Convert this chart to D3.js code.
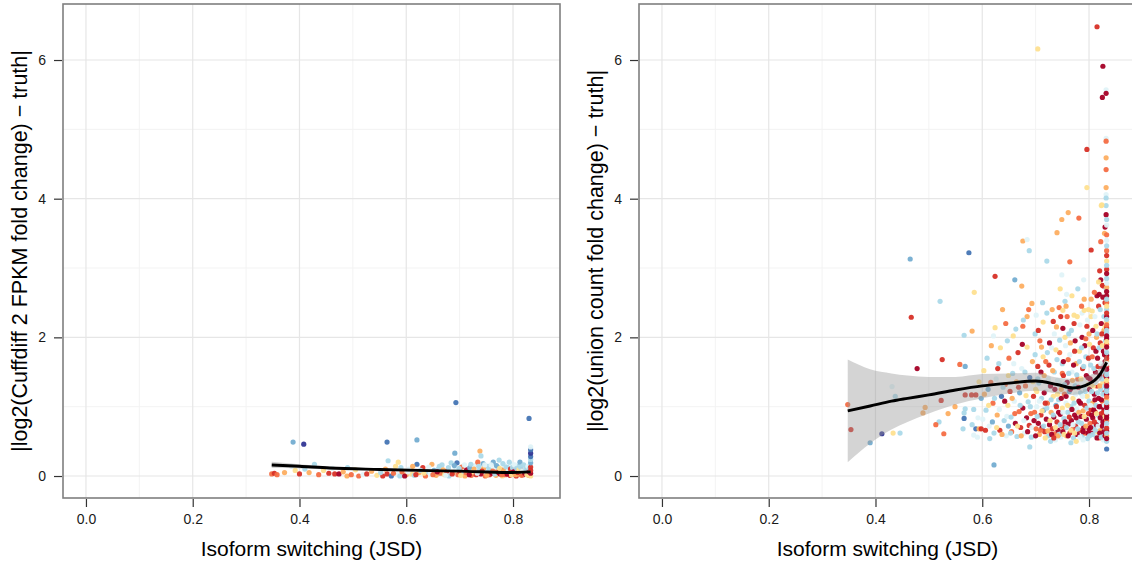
<!DOCTYPE html>
<html><head><meta charset="utf-8">
<script src="https://cdn.jsdelivr.net/npm/d3@7"></script>
<style>html,body{margin:0;padding:0;background:#fff;}svg{display:block;font-family:"Liberation Sans",Arial,sans-serif;}</style>
</head><body>
<svg id="chart" width="1132" height="565"></svg>
<script>
// ---------- data ----------
const palette = ["#a50026","#d73027","#f46d43","#fdae61","#fee090","#e0f3f8","#abd9e9","#74add1","#4575b4","#313695"];
const xTicks = [0.0,0.2,0.4,0.6,0.8];
const xTickLabels = ["0.0","0.2","0.4","0.6","0.8"];
const yTicks = [0,2,4,6];
const yTickLabels = ["0","2","4","6"];
const xMinor = [0.1,0.3,0.5,0.7];
const yMinor = [1,3,5];
const xTitle = "Isoform switching (JSD)";
const leftYTitle = "|log2(Cuffdiff 2 FPKM fold change) \u2212 truth|";
const rightYTitle = "|log2(union count fold change) \u2212 truth|";

// [JSD, error, colour class]
const leftPoints = [
[0.348,0.03,2],[0.353,0.04,1],[0.358,0.02,2],[0.372,0.05,3],[0.385,0.14,5],[0.392,0.08,4],[0.400,0.03,1],[0.410,0.10,6],[0.418,0.05,3],[0.428,0.17,6],[0.436,0.02,2],[0.445,0.08,4],[0.455,0.04,1],[0.462,0.11,5],[0.466,0.03,1],[0.474,0.03,0],[0.482,0.06,3],[0.489,0.00,3],[0.490,0.12,6],[0.497,0.02,2],[0.505,0.09,4],
[0.511,0.00,2],[0.519,0.02,5],[0.526,0.03,1],[0.535,0.07,3],[0.545,0.01,4],[0.556,0.00,1],[0.564,0.03,1],[0.566,0.22,6],[0.572,0.00,8],[0.580,0.14,4],[0.585,0.20,4],[0.584,0.02,5],[0.588,0.00,6],[0.592,0.06,2],[0.600,0.02,3],[0.605,0.10,5],[0.610,0.03,4],[0.615,0.01,6],[0.620,0.17,8],[0.624,0.05,3],[0.631,0.12,1],[0.636,0.00,2],[0.640,0.06,6],[0.645,0.03,5],[0.648,0.17,3],[0.652,0.08,7],[0.656,0.01,3],[0.660,0.10,6],[0.664,0.04,2],[0.667,0.16,6],[0.672,0.02,4],[0.676,0.07,1],[0.680,0.00,6],[0.684,0.19,6],[0.688,0.05,3],[0.692,0.10,5],[0.695,0.19,8],[0.697,0.02,2],[0.700,0.07,1],[0.704,0.13,2],[0.707,0.03,6],[0.710,0.00,3],[0.713,0.09,0],[0.716,0.04,5],[0.719,0.12,7],[0.722,0.01,2],[0.725,0.06,4],[0.729,0.15,5],[0.731,0.02,1],[0.734,0.20,2],[0.737,0.08,6],[0.740,0.03,0],[0.744,0.18,7],[0.745,0.11,3],[0.748,0.00,2],[0.750,0.05,5],[0.753,0.14,6],[0.756,0.02,1],[0.758,0.08,4],[0.761,0.04,0],[0.763,0.20,7],[0.765,0.10,5],[0.768,0.01,3],[0.770,0.06,2],[0.772,0.13,6],[0.774,0.23,6],[0.776,0.03,0],[0.778,0.09,1],[0.780,0.00,4],[0.782,0.05,0],[0.784,0.15,5],[0.786,0.02,2],[0.788,0.08,0],[0.790,0.12,6],[0.792,0.04,3],[0.794,0.01,1],[0.796,0.07,0],[0.798,0.17,5],[0.800,0.03,2],[0.802,0.10,0],[0.804,0.05,4],[0.806,0.00,1],[0.808,0.08,0],[0.810,0.14,6],[0.812,0.03,3],[0.813,0.20,7],[0.815,0.06,0],[0.817,0.10,1],[0.819,0.02,0],[0.821,0.07,2],[0.823,0.12,5],[0.825,0.04,0],[0.827,0.09,1],[0.829,0.01,3],
[0.552,0.05,6],[0.561,0.10,3],[0.576,0.04,2],[0.590,0.12,6],[0.597,0.00,0],[0.603,0.06,5],[0.612,0.14,3],[0.618,0.02,1],[0.627,0.08,6],[0.633,0.04,4],[0.642,0.13,5],[0.650,0.02,2],[0.658,0.06,0],[0.662,0.14,6],[0.669,0.09,3],[0.674,0.01,5],[0.679,0.12,6],[0.686,0.03,1],[0.690,0.15,7],[0.699,0.11,6],[0.702,0.01,4],[0.709,0.16,5],[0.712,0.05,2],[0.718,0.02,0],[0.721,0.17,6],[0.727,0.10,3],[0.733,0.04,5],[0.736,0.14,6],[0.742,0.07,1],[0.747,0.16,5],[0.751,0.01,3],[0.755,0.10,6],[0.759,0.16,5],[0.762,0.07,2],[0.766,0.03,6],[0.769,0.15,7],[0.773,0.05,0],[0.775,0.11,4],[0.779,0.02,2],[0.781,0.18,6],[0.783,0.08,3],[0.787,0.13,6],[0.789,0.03,0],[0.791,0.07,5],[0.793,0.20,6],[0.795,0.10,1],[0.797,0.02,4],[0.799,0.12,6],[0.801,0.06,0],[0.803,0.16,5],[0.805,0.02,3],[0.807,0.11,6],[0.809,0.05,1],[0.811,0.09,4],[0.814,0.13,6],[0.816,0.01,2],[0.818,0.07,5],[0.820,0.16,6],[0.822,0.04,0],[0.824,0.10,6],[0.826,0.02,4],[0.828,0.14,5],[0.830,0.06,0],[0.831,0.11,6],
[0.833,0.00,4],[0.833,0.04,0],[0.833,0.08,1],[0.833,0.13,1],[0.833,0.19,7],[0.833,0.24,6],[0.833,0.28,8],[0.833,0.33,9],[0.833,0.38,8],[0.833,0.42,5],
[0.388,0.49,7],[0.408,0.46,9],[0.564,0.49,8],[0.620,0.52,7],[0.693,1.06,8],[0.691,0.33,7],[0.738,0.36,3],[0.740,0.29,6],[0.830,0.83,8]
];

const rightPoints = [
[0.815,6.48,1],[0.704,6.16,4],[0.826,5.91,0],[0.832,5.57,5],[0.832,5.52,0],[0.825,5.46,0],[0.832,4.87,5],[0.832,4.83,2],[0.796,4.71,1],[0.832,4.59,3],[0.832,4.42,2],[0.796,4.16,4],[0.832,4.16,3],[0.832,4.06,5],[0.832,4.01,6],[0.832,3.90,6],[0.823,3.90,4],[0.832,3.77,0],[0.761,3.80,3],[0.781,3.72,2],[0.749,3.70,3],[0.740,3.51,3],
[0.465,3.13,7],[0.575,3.22,8],[0.467,2.29,1],[0.521,2.52,6],[0.585,2.65,4],[0.624,2.88,1],[0.661,2.83,7],[0.674,2.74,3],[0.693,2.49,3],[0.676,3.39,3],[0.684,3.41,5],[0.688,3.25,6],[0.721,3.10,6],[0.804,3.26,1],[0.764,3.09,2],[0.749,2.90,5],[0.790,2.83,5],[0.746,2.70,4],[0.755,2.52,6],[0.744,2.43,2],[0.751,2.39,4],[0.684,2.30,3],[0.701,2.32,5],[0.714,2.22,4],[0.733,2.23,1],[0.772,2.32,4],[0.787,2.35,5],[0.676,2.16,2],[0.624,2.14,4],[0.751,2.13,0],[0.796,2.16,1],[0.813,2.16,4],[0.791,2.39,4],[0.799,2.40,4],[0.806,2.38,4],[0.815,2.60,0],[0.819,2.62,0],[0.820,2.96,1],[0.822,2.83,0],[0.827,2.74,1],[0.830,3.59,0],[0.822,3.38,2],[0.829,3.50,3],[0.824,3.91,4],[0.833,3.70,6],
[0.348,1.03,2],[0.354,0.67,1],[0.390,0.48,7],[0.412,0.61,9],[0.433,0.62,4],[0.446,0.62,6],[0.431,1.29,5],[0.437,1.15,6],[0.478,1.55,0],[0.525,1.68,1],[0.558,1.61,2],[0.568,1.58,7],[0.566,2.03,6],[0.581,2.09,3],[0.523,1.09,1],[0.493,0.99,3],[0.489,0.91,3],[0.519,0.78,6],[0.513,0.74,2],[0.528,0.61,2],[0.536,0.90,3],[0.549,1.00,3],[0.568,1.17,1],[0.568,0.97,6],[0.566,0.91,6],[0.566,0.83,8],[0.564,0.68,6],[0.581,0.74,6],[0.588,0.68,8],[0.594,0.68,3],[0.598,0.68,1],[0.584,0.59,5],[0.591,0.56,5],[0.584,0.96,6],[0.592,0.84,5],[0.594,1.36,4],[0.588,1.17,1],[0.580,1.17,1],[0.598,1.12,7],[0.622,0.16,7],[0.689,0.42,6],
[0.603,1.52,4],[0.607,0.95,6],[0.611,1.25,7],[0.613,0.72,5],[0.617,1.88,3],[0.620,1.05,2],[0.622,0.62,6],[0.626,1.40,5],[0.628,0.88,3],[0.631,1.62,6],[0.633,0.66,1],[0.636,1.15,8],[0.638,2.40,3],[0.641,0.80,6],[0.643,1.32,2],[0.645,0.58,5],[0.647,1.95,6],[0.648,1.02,4],[0.649,0.72,7],[0.650,1.70,2],
[0.601,0.82,5],[0.604,1.18,3],[0.606,0.66,1],[0.609,1.70,6],[0.612,1.02,4],[0.614,0.54,6],[0.616,1.35,2],[0.619,0.78,7],[0.621,2.02,5],[0.623,1.12,6],[0.627,0.70,4],[0.629,1.55,1],[0.632,0.96,5],[0.634,1.85,4],[0.637,0.60,3],[0.639,1.28,6],[0.642,1.08,0],[0.644,2.20,2],[0.646,0.86,5],[0.649,1.45,4],
[0.652,1.22,1],[0.654,0.85,6],[0.655,0.64,2],[0.657,1.48,6],[0.658,2.02,4],[0.660,1.08,5],[0.662,0.76,0],[0.664,1.36,3],[0.665,0.57,6],[0.667,1.78,1],[0.669,0.93,2],[0.670,1.20,7],[0.672,0.70,1],[0.674,1.55,5],[0.676,0.98,0],[0.677,2.25,6],[0.679,0.62,5],[0.681,1.30,2],[0.683,0.84,0],[0.684,1.86,4],[0.686,1.07,6],[0.688,0.73,1],[0.689,1.42,8],[0.691,0.90,2],[0.692,0.56,6],[0.694,1.65,3],[0.696,1.15,1],[0.697,0.80,0],[0.699,2.05,6],[0.700,1.25,4],
[0.653,0.62,6],[0.656,1.12,3],[0.659,1.62,5],[0.661,0.90,2],[0.663,2.12,6],[0.666,0.72,4],[0.668,1.28,1],[0.671,1.02,6],[0.673,0.58,3],[0.675,1.90,0],[0.678,0.80,5],[0.680,1.50,6],[0.682,1.16,4],[0.685,0.64,0],[0.687,2.40,2],[0.690,1.00,6],[0.693,0.70,5],[0.695,1.36,4],[0.698,0.92,2],[0.699,1.75,6],
[0.701,0.68,2],[0.702,1.00,5],[0.704,1.58,1],[0.705,0.76,0],[0.706,1.34,6],[0.707,0.60,3],[0.708,1.95,2],[0.710,0.88,1],[0.711,1.12,6],[0.712,0.70,0],[0.714,1.72,4],[0.715,0.95,7],[0.716,1.45,3],[0.717,0.64,1],[0.719,1.22,5],[0.720,0.82,0],[0.721,2.35,6],[0.722,1.05,2],[0.724,0.58,6],[0.725,1.60,1],[0.726,0.74,0],[0.727,1.30,6],[0.729,0.92,3],[0.730,1.85,5],[0.731,0.68,1],[0.733,1.15,4],[0.734,0.85,0],[0.735,1.50,6],[0.736,0.61,2],[0.738,1.02,7],[0.739,2.15,3],[0.740,0.78,1],[0.741,1.38,5],[0.742,0.66,0],[0.743,1.10,6],[0.745,1.78,2],[0.746,0.89,0],[0.747,0.56,5],[0.748,1.25,3],[0.749,0.72,1],[0.750,1.62,6],[0.750,0.98,4],[0.744,0.60,6],[0.737,0.52,5],[0.728,0.50,6],
[0.700,0.58,0],[0.702,1.22,4],[0.703,0.86,6],[0.705,2.10,1],[0.707,1.08,5],[0.709,0.66,2],[0.710,1.50,0],[0.712,0.94,4],[0.713,2.50,6],[0.715,0.72,6],[0.716,1.20,0],[0.718,0.55,4],[0.719,1.65,2],[0.721,0.98,6],[0.723,0.65,3],[0.724,1.40,5],[0.726,1.92,0],[0.727,0.80,4],[0.729,1.10,6],[0.730,0.60,0],[0.732,1.52,3],[0.733,0.88,6],[0.735,2.05,5],[0.736,1.25,0],[0.737,0.70,4],[0.739,1.00,1],[0.740,1.68,6],[0.742,0.58,3],[0.743,0.92,0],[0.744,1.35,5],[0.746,0.74,6],[0.747,2.30,1],[0.748,1.12,0],[0.749,0.62,6],[0.750,1.48,2],[0.745,1.96,6],[0.738,1.82,4],[0.731,2.40,3],[0.722,1.78,6],[0.711,1.86,3],[0.704,1.40,6],[0.718,1.05,1],[0.728,1.30,0],[0.741,1.18,4],[0.734,0.55,1],
[0.751,0.64,0],[0.752,1.45,1],[0.753,0.83,6],[0.754,1.18,2],[0.755,2.00,4],[0.756,0.70,1],[0.757,1.05,5],[0.758,0.58,3],[0.759,1.35,0],[0.760,0.92,6],[0.761,1.68,2],[0.762,0.75,0],[0.763,1.22,7],[0.764,0.62,1],[0.765,1.92,3],[0.766,1.00,6],[0.767,0.80,0],[0.768,1.50,5],[0.769,0.67,2],[0.770,1.12,4],[0.771,0.55,6],[0.772,2.20,1],[0.773,0.88,0],[0.774,1.30,6],[0.775,0.72,1],[0.776,1.62,3],[0.777,0.96,5],[0.778,0.60,0],[0.779,1.40,2],[0.780,0.78,6],[0.781,1.08,0],[0.782,1.80,4],[0.783,0.66,1],[0.784,1.20,6],[0.785,0.86,0],[0.786,2.45,2],[0.787,0.57,6],[0.788,1.55,1],[0.789,0.94,3],[0.790,0.70,0],[0.791,1.28,5],[0.792,1.02,1],[0.793,0.62,2],[0.794,1.72,6],[0.795,0.82,0],[0.796,1.15,4],[0.797,0.54,6],[0.798,1.42,0],[0.799,0.90,1],[0.800,2.05,3],[0.800,0.68,0],[0.776,0.50,4],[0.789,0.52,5],[0.766,0.48,6],[0.758,2.62,5],
[0.751,0.92,5],[0.752,1.65,0],[0.753,0.60,4],[0.754,1.32,6],[0.755,0.78,0],[0.756,1.88,5],[0.757,1.15,0],[0.758,0.70,6],[0.759,2.30,2],[0.760,1.02,4],[0.761,0.58,0],[0.762,1.48,6],[0.763,0.85,1],[0.764,1.75,5],[0.765,1.25,0],[0.766,0.66,4],[0.767,2.10,6],[0.768,0.96,0],[0.769,1.38,3],[0.770,0.74,5],[0.771,1.60,0],[0.772,1.05,6],[0.773,0.62,4],[0.774,1.95,0],[0.775,1.18,5],[0.776,0.84,0],[0.777,1.46,6],[0.778,2.30,4],[0.779,0.68,6],[0.780,1.28,0],[0.781,0.92,3],[0.782,1.65,6],[0.783,0.56,5],[0.784,1.05,0],[0.785,1.40,4],[0.786,0.76,6],[0.787,2.00,0],[0.788,1.15,5],[0.789,0.64,0],[0.790,1.58,6],[0.791,0.86,4],[0.792,1.88,0],[0.793,1.22,6],[0.794,0.72,3],[0.795,1.45,0],[0.796,0.98,6],[0.797,2.25,5],[0.798,0.62,0],[0.799,1.32,4],[0.800,1.08,6],[0.757,2.45,3],[0.768,2.60,4],[0.779,2.70,6],[0.791,2.55,3],[0.783,2.18,5],[0.773,1.80,1],[0.762,2.05,6],[0.794,1.98,2],[0.786,1.85,6],[0.799,1.70,1],
[0.801,1.25,0],[0.802,0.76,2],[0.803,1.60,6],[0.804,0.96,1],[0.804,2.30,4],[0.805,0.62,0],[0.806,1.38,5],[0.807,1.05,3],[0.807,0.84,0],[0.808,1.85,1],[0.809,0.70,6],[0.810,1.18,0],[0.810,2.65,2],[0.811,0.58,5],[0.812,1.50,0],[0.812,0.92,1],[0.813,1.02,6],[0.814,0.74,0],[0.814,2.00,3],[0.815,1.30,1],[0.816,0.64,4],[0.816,1.70,0],[0.817,0.88,6],[0.818,1.12,0],[0.818,2.45,1],[0.819,0.55,2],[0.820,1.45,0],[0.820,0.80,5],[0.821,1.92,1],[0.821,1.00,0],[0.822,0.68,3],[0.822,1.25,6],[0.823,2.20,0],[0.823,0.90,1],[0.824,1.58,0],[0.824,0.60,6],[0.825,1.08,2],[0.825,2.75,1],[0.826,0.78,0],[0.826,1.35,4],[0.827,1.80,0],[0.827,0.52,5],[0.828,0.96,0],[0.828,2.10,3],[0.829,1.20,1],[0.829,0.70,6],[0.830,1.65,0],[0.830,2.50,1],[0.830,0.86,4],
[0.801,0.58,6],[0.801,1.90,4],[0.802,1.40,0],[0.803,1.02,5],[0.803,0.70,0],[0.804,2.55,3],[0.805,1.22,6],[0.805,0.88,0],[0.806,1.72,2],[0.807,0.60,6],[0.807,2.10,0],[0.808,1.30,4],[0.809,0.95,0],[0.809,1.55,6],[0.810,0.78,1],[0.811,2.30,5],[0.811,1.10,0],[0.812,0.66,6],[0.813,1.80,0],[0.813,1.35,5],[0.814,0.90,4],[0.815,2.05,6],[0.815,0.55,0],[0.816,1.20,6],[0.817,1.58,1],[0.817,0.72,5],[0.818,2.80,4],[0.819,1.00,0],[0.819,1.85,6],[0.820,0.62,0],[0.820,1.30,3],[0.821,2.40,6],[0.821,0.84,0],[0.822,1.62,5],[0.823,1.10,0],[0.823,0.56,6],[0.824,2.05,1],[0.824,1.40,6],[0.825,0.72,0],[0.825,1.88,4],[0.826,1.18,6],[0.826,2.58,0],[0.827,0.92,1],[0.827,1.50,6],[0.828,0.64,0],[0.828,2.30,6],[0.829,1.75,0],[0.829,1.02,5],[0.830,0.58,0],[0.830,2.15,4],[0.830,1.30,6],[0.831,0.80,0],[0.831,1.95,6],[0.831,1.45,1],[0.832,2.70,6],[0.832,1.10,0],[0.832,0.68,6],
[0.833,0.50,6],[0.833,0.58,3],[0.833,0.65,0],[0.833,0.72,5],[0.833,0.80,2],[0.833,0.88,0],[0.833,0.95,6],[0.833,1.02,1],[0.833,1.10,4],[0.833,1.18,0],[0.833,1.26,7],[0.833,1.34,2],[0.833,1.42,0],[0.833,1.50,6],[0.833,1.58,1],[0.833,1.66,3],[0.833,1.74,0],[0.833,1.82,5],[0.833,1.90,2],[0.833,1.98,0],[0.833,2.06,6],[0.833,2.14,1],[0.833,2.22,4],[0.833,2.30,0],[0.833,2.40,6],[0.833,2.50,2],[0.833,2.60,0],[0.833,2.72,3],[0.833,2.85,6],[0.833,2.98,1],[0.833,3.10,4],[0.833,3.25,2],[0.833,3.40,5],[0.833,0.39,8],
[0.833,0.54,0],[0.833,0.62,6],[0.833,0.69,1],[0.833,0.76,6],[0.833,0.84,0],[0.833,0.92,5],[0.833,0.99,0],[0.833,1.06,6],[0.833,1.14,2],[0.833,1.22,6],[0.833,1.30,0],[0.833,1.38,4],[0.833,1.46,6],[0.833,1.54,0],[0.833,1.62,5],[0.833,1.70,1],[0.833,1.78,6],[0.833,1.86,0],[0.833,1.94,4],[0.833,2.02,0],[0.833,2.10,6],[0.833,2.18,2],[0.833,2.26,6],[0.833,2.35,1],[0.833,2.45,4],[0.833,2.55,6],[0.833,2.66,0],[0.833,2.78,5],[0.833,2.92,0],[0.833,3.04,6],[0.833,3.18,1],[0.833,3.32,6],[0.833,3.48,2],[0.833,3.62,5]
];

// loess fits with confidence band
const leftSmoothX  = [0.348,0.40,0.457,0.55,0.645,0.70,0.79,0.833];
const leftSmoothY  = [0.160,0.140,0.115,0.095,0.078,0.070,0.050,0.060];
const leftSmoothLo = [0.115,0.110,0.095,0.080,0.066,0.058,0.038,0.040];
const leftSmoothHi = [0.205,0.170,0.135,0.110,0.090,0.082,0.062,0.080];

const rightSmoothX  = [0.348,0.39,0.43,0.46,0.50,0.55,0.60,0.65,0.70,0.74,0.77,0.80,0.82,0.833];
const rightSmoothY  = [0.94,1.01,1.08,1.12,1.17,1.24,1.30,1.34,1.37,1.32,1.27,1.33,1.46,1.64];
const rightSmoothLo = [0.20,0.47,0.67,0.78,0.90,1.03,1.12,1.19,1.23,1.19,1.17,1.24,1.37,1.52];
const rightSmoothHi = [1.68,1.54,1.48,1.45,1.43,1.43,1.47,1.48,1.49,1.42,1.40,1.45,1.57,1.76];

// ---------- drawing ----------
const svg = d3.select("#chart");
const panelTop = 4, panelBottom = 498, panelWidth = 497;
const xDomain = [-0.043, 0.888];
const yDomain = [-0.317, 6.808];
const FONT = "Liberation Sans, Arial, sans-serif";

function drawPanel(left, points, sx, sy, slo, shi, yTitle, titleX, id) {
  const x = d3.scaleLinear().domain(xDomain).range([left, left + panelWidth]);
  const y = d3.scaleLinear().domain(yDomain).range([panelBottom, panelTop]);
  const g = svg.append("g");

  g.append("clipPath").attr("id", id).append("rect")
    .attr("x", left).attr("y", panelTop).attr("width", panelWidth).attr("height", panelBottom - panelTop);

  // grid
  const grid = g.append("g");
  grid.selectAll(".xm").data(xMinor).join("line")
    .attr("x1", d => x(d)).attr("x2", d => x(d)).attr("y1", panelTop).attr("y2", panelBottom)
    .attr("stroke", "#f3f3f3").attr("stroke-width", 1);
  grid.selectAll(".ym").data(yMinor).join("line")
    .attr("y1", d => y(d)).attr("y2", d => y(d)).attr("x1", left).attr("x2", left + panelWidth)
    .attr("stroke", "#f3f3f3").attr("stroke-width", 1);
  grid.selectAll(".xM").data(xTicks).join("line")
    .attr("x1", d => x(d)).attr("x2", d => x(d)).attr("y1", panelTop).attr("y2", panelBottom)
    .attr("stroke", "#e6e6e6").attr("stroke-width", 1.2);
  grid.selectAll(".yM").data(yTicks).join("line")
    .attr("y1", d => y(d)).attr("y2", d => y(d)).attr("x1", left).attr("x2", left + panelWidth)
    .attr("stroke", "#e6e6e6").attr("stroke-width", 1.2);

  const plot = g.append("g").attr("clip-path", `url(#${id})`);
  plot.selectAll("circle").data(points).join("circle")
    .attr("cx", d => x(d[0])).attr("cy", d => y(d[1])).attr("r", 2.6)
    .attr("fill", d => palette[d[2]]).attr("fill-opacity", 0.95);

  const band = sx.map((v, i) => ({x: v, lo: slo[i], hi: shi[i], y: sy[i]}));
  plot.append("path").datum(band)
    .attr("d", d3.area().x(d => x(d.x)).y0(d => y(d.lo)).y1(d => y(d.hi)).curve(d3.curveMonotoneX))
    .attr("fill", "#999999").attr("fill-opacity", 0.42);
  plot.append("path").datum(band)
    .attr("d", d3.line().x(d => x(d.x)).y(d => y(d.y)).curve(d3.curveMonotoneX))
    .attr("fill", "none").attr("stroke", "#000").attr("stroke-width", 2.9);

  // border
  g.append("rect").attr("x", left).attr("y", panelTop).attr("width", panelWidth).attr("height", panelBottom - panelTop)
    .attr("fill", "none").attr("stroke", "#7f7f7f").attr("stroke-width", 1.6);

  // axes
  const xAxis = d3.axisBottom(x).tickValues(xTicks).tickFormat((d, i) => xTickLabels[i]).tickSize(8).tickPadding(7);
  const xa = g.append("g").attr("transform", `translate(0,${panelBottom + 1})`).call(xAxis);
  xa.select(".domain").remove();
  xa.selectAll("line").attr("stroke", "#333").attr("stroke-width", 1.2);
  xa.selectAll("text").attr("font-size", 14).attr("fill", "#1a1a1a").attr("font-family", FONT);

  const yAxis = d3.axisLeft(y).tickValues(yTicks).tickFormat((d, i) => yTickLabels[i]).tickSize(8).tickPadding(8);
  const ya = g.append("g").attr("transform", `translate(${left - 1},0)`).call(yAxis);
  ya.select(".domain").remove();
  ya.selectAll("line").attr("stroke", "#333").attr("stroke-width", 1.2);
  ya.selectAll("text").attr("font-size", 14).attr("fill", "#1a1a1a").attr("font-family", FONT);

  // titles
  g.append("text").attr("x", left + panelWidth / 2).attr("y", 556)
    .attr("text-anchor", "middle").attr("font-size", 21).attr("fill", "#000").text(xTitle);
  g.append("text").attr("transform", `translate(${titleX},${(panelTop + panelBottom) / 2}) rotate(-90)`)
    .attr("text-anchor", "middle").attr("dy", "0.35em").attr("font-size", 21.5).attr("fill", "#000").text(yTitle);
}

drawPanel(63, leftPoints, leftSmoothX, leftSmoothY, leftSmoothLo, leftSmoothHi, leftYTitle, 19, "clipL");
drawPanel(639, rightPoints, rightSmoothX, rightSmoothY, rightSmoothLo, rightSmoothHi, rightYTitle, 595, "clipR");
</script>
</body></html>
